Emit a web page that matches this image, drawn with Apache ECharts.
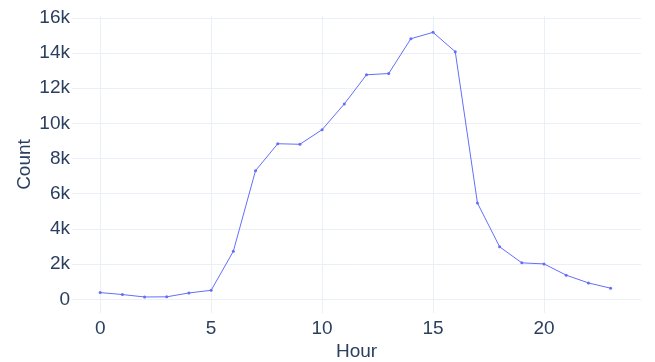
<!DOCTYPE html>
<html>
<head>
<meta charset="utf-8">
<script src="https://cdn.jsdelivr.net/npm/echarts@6/dist/echarts.min.js"></script>
<style>
  html, body { margin: 0; padding: 0; background: #fff; }
  #chart { width: 655px; height: 362px; }
</style>
</head>
<body>
<div id="chart"></div>
<script>
// trips per hour of day
const hours = [0, 1, 2, 3, 4, 5, 6, 7, 8, 9, 10, 11, 12, 13, 14, 15, 16, 17, 18, 19, 20, 21, 22, 23]
const counts = [380, 270, 130, 140, 360, 510, 2730, 7310, 8840, 8810, 9640, 11100,
  12760, 12830, 14810, 15170, 14070, 5470, 2980, 2070, 2010, 1370, 930, 630]

const fontFamily = '"Liberation Sans", Arial, sans-serif'
const textColor = '#2a3f5f'
const gridColor = '#ebf0f8'

const chart = echarts.init(document.getElementById('chart'))

const option = {
  animation: false,
  textStyle: { fontFamily: fontFamily },
  grid: { left: 72, right: 14, top: 16, bottom: 49, outerBoundsMode: 'none' },
  xAxis: {
    type: 'value',
    name: 'Hour',
    nameLocation: 'middle',
    nameGap: 29,
    nameMoveOverlap: false,
    nameTextStyle: { color: textColor, fontSize: 19, fontFamily: fontFamily },
    min: -1.27,
    max: 24.37,
    splitNumber: 5,
    axisLine: { show: false },
    axisTick: { show: false },
    axisLabel: {
      color: textColor, fontSize: 19, margin: 6,
      showMinLabel: false, showMaxLabel: false
    },
    splitLine: {
      show: true, showMinLine: false, showMaxLine: false,
      lineStyle: { color: gridColor, width: 1 }
    }
  },
  yAxis: {
    type: 'value',
    name: 'Count',
    nameLocation: 'middle',
    nameGap: 38,
    nameMoveOverlap: false,
    nameTextStyle: { color: textColor, fontSize: 19, fontFamily: fontFamily },
    min: -780,
    max: 16100,
    splitNumber: 8,
    axisLine: { show: false },
    axisTick: { show: false },
    axisLabel: {
      color: textColor, fontSize: 19, margin: 2,
      showMinLabel: false, showMaxLabel: false,
      formatter: (v) => v === 0 ? '0' : (v / 1000) + 'k'
    },
    splitLine: {
      show: true, showMinLine: false, showMaxLine: false,
      lineStyle: { color: gridColor, width: 1 }
    }
  },
  series: [
    {
      type: 'line',
      data: hours.map((h, i) => [h, counts[i]]),
      symbol: 'circle',
      symbolSize: 3,
      showSymbol: true,
      lineStyle: { color: '#636efa', width: 1 },
      itemStyle: { color: '#636efa' }
    }
  ]
}

chart.setOption(option)
</script>
</body>
</html>
